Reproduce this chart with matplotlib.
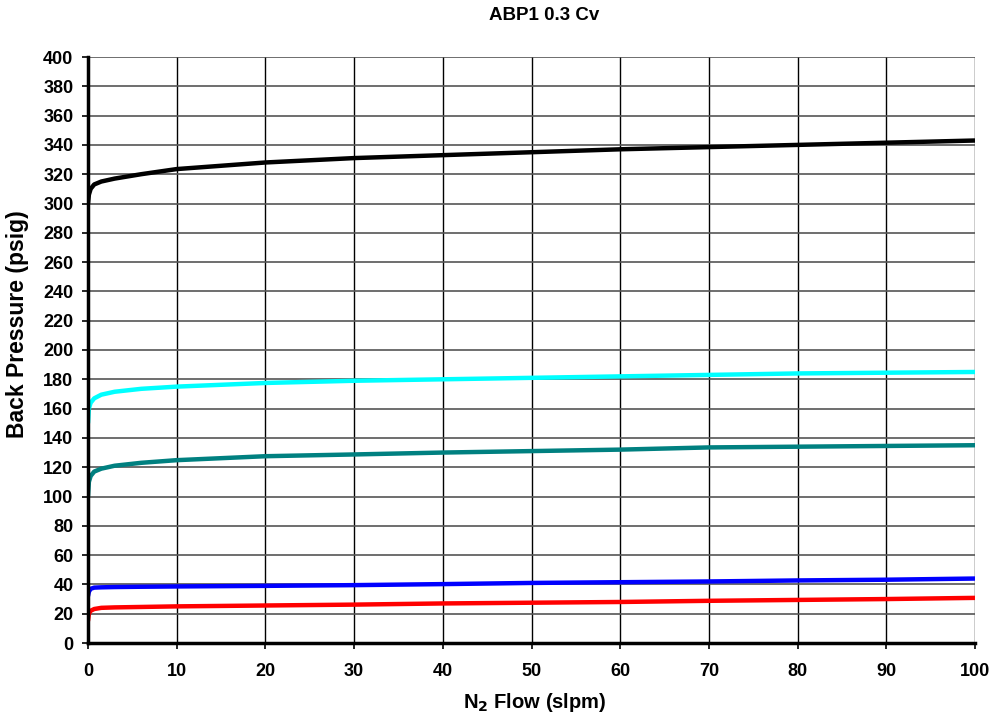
import matplotlib
matplotlib.use("Agg")
import matplotlib.pyplot as plt

plt.rcParams['font.family'] = ['Liberation Sans', 'DejaVu Sans']
plt.rcParams['font.weight'] = 'bold'

flow = [0, 0.1, 0.3, 0.7, 1.5, 3, 6, 10, 20, 30, 40, 50, 60, 70, 80, 90, 100]
black = [300, 306, 310, 313, 315, 317, 320, 323.5, 328, 331, 333, 335, 337, 338.5, 340, 341.5, 343]
cyan = [150, 160, 164, 167, 169.5, 171.5, 173.5, 175, 177.5, 179, 180, 181, 182, 183, 184, 184.5, 185]
teal = [100, 110, 114, 117, 119, 121, 123, 124.8, 127.5, 128.7, 130, 131, 132, 133.5, 134, 134.5, 135]
blue = [32, 35, 37, 37.8, 38, 38.2, 38.4, 38.6, 39, 39.5, 40.2, 41, 41.5, 42, 42.7, 43.2, 44]
red = [15, 20, 22, 23.2, 24, 24.3, 24.6, 25, 25.6, 26.2, 27, 27.5, 28, 28.8, 29.4, 30, 30.8]

series = [(black, '#000000'), (cyan, '#00FFFF'), (teal, '#008080'), (blue, '#0000FF'), (red, '#FF0000')]

fig = plt.figure(figsize=(9.93, 7.19), dpi=100)
ax = fig.add_axes([88/993, 1-643/719, (975-88)/993, (643-57)/719])

for vals, c in series:
    ax.plot(flow, vals, color=c, lw=3.2, solid_capstyle='butt')

ax.set_xlim(0, 100)
ax.set_ylim(0, 400)
ax.set_xticks(range(0, 101, 10))
ax.set_yticks(range(0, 401, 20))
ax.grid(True, axis='x', color='black', lw=1)
ax.grid(True, axis='y', color='#555555', lw=1.2)
ax.set_axisbelow(True)
for s in ['top', 'right']:
    ax.spines[s].set_visible(False)
ax.spines['left'].set_linewidth(2.5)
ax.spines['bottom'].set_linewidth(2.5)
ax.tick_params(direction='out', length=4.5, width=1.2, labelsize=13)
ax.tick_params(axis='y', pad=6)
ax.tick_params(axis='x', pad=10)
for lab in ax.get_xticklabels() + ax.get_yticklabels():
    lab.set_fontweight('bold')

ax.set_xlabel('N$_\\mathbf{2}$ Flow (slpm)', fontsize=14.5, fontweight='bold')
ax.set_ylabel('Back Pressure (psig)', fontsize=16.5, fontweight='bold')
ax.xaxis.set_label_coords((535-88)/887, -(691-643)/586)
ax.yaxis.set_label_coords(-(88-29)/887, (643-324)/586)
fig.text(544/993, 1-16/719, 'ABP1 0.3 Cv', ha='center', va='center', fontsize=13.5, fontweight='bold')

fig.savefig('out.png', dpi=100)
